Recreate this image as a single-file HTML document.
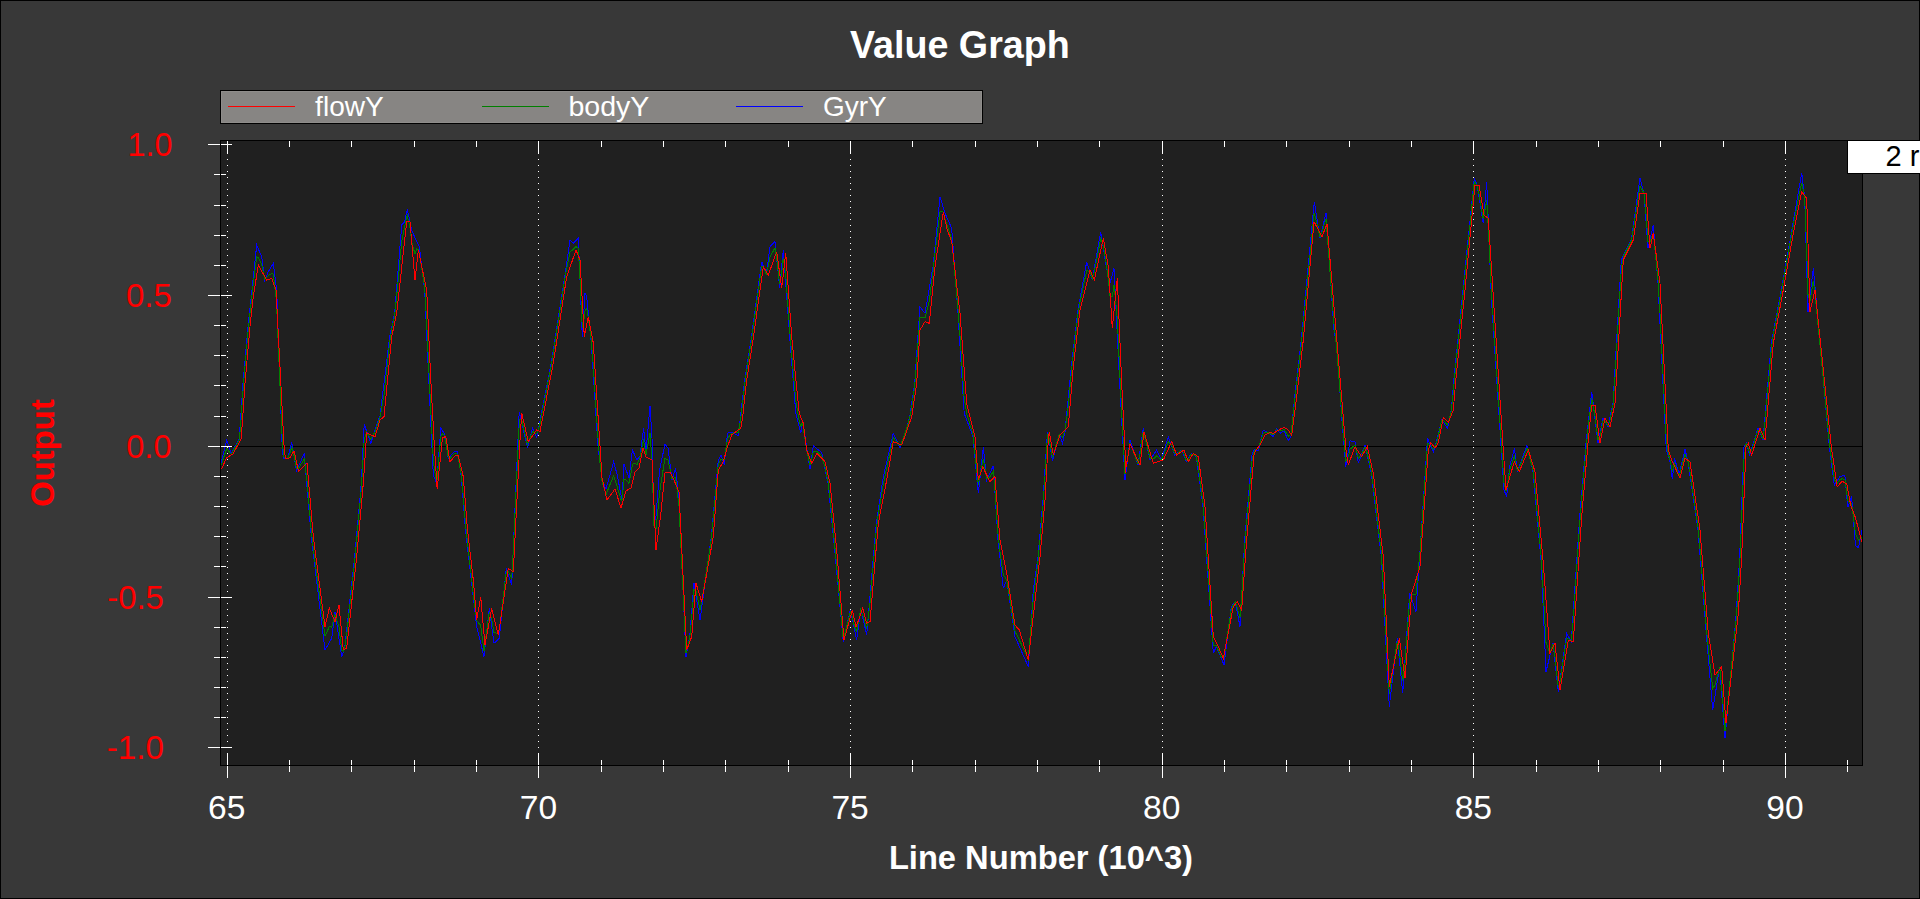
<!DOCTYPE html>
<html><head><meta charset="utf-8"><title>Value Graph</title>
<style>
html,body{margin:0;padding:0;background:#383838;overflow:hidden;width:1920px;height:899px;}
svg{display:block;}
text{font-family:"Liberation Sans",sans-serif;}
</style></head><body>
<svg width="1920" height="899" viewBox="0 0 1920 899">
<rect x="0" y="0" width="1920" height="899" fill="#383838"/>
<rect x="0" y="0" width="1920" height="1" fill="#000"/><rect x="0" y="898" width="1920" height="1" fill="#000"/><rect x="0" y="0" width="1" height="899" fill="#000"/><rect x="1919" y="0" width="1" height="899" fill="#000"/>
<text x="850.0" y="58" font-size="38" font-weight="bold" fill="#fff" textLength="219.73" lengthAdjust="spacingAndGlyphs">Value Graph</text>
<rect x="220" y="90" width="763" height="34" fill="#000"/>
<rect x="221" y="91" width="761" height="32" fill="#878583"/>
<rect x="221.5" y="91.5" width="760" height="31" fill="none" stroke="#8f8d8b" stroke-width="1"/>
<rect x="228" y="106" width="67" height="1" fill="#ff0000"/>
<text x="315.1" y="116" font-size="28" font-weight="normal" fill="#fff" textLength="68.67" lengthAdjust="spacingAndGlyphs">flowY</text>
<rect x="482" y="106" width="67" height="1" fill="#008000"/>
<text x="568.4" y="116" font-size="28" font-weight="normal" fill="#fff" textLength="81.06" lengthAdjust="spacingAndGlyphs">bodyY</text>
<rect x="736" y="106" width="67" height="1" fill="#0000ff"/>
<text x="823.0" y="116" font-size="28" font-weight="normal" fill="#fff" textLength="63.78" lengthAdjust="spacingAndGlyphs">GyrY</text>
<rect x="220" y="140" width="1643" height="626" fill="#202020"/>
<line x1="227.5" y1="141" x2="227.5" y2="765" stroke="#fff" stroke-width="1" stroke-dasharray="1 5"/>
<line x1="538.5" y1="141" x2="538.5" y2="765" stroke="#fff" stroke-width="1" stroke-dasharray="1 5"/>
<line x1="850.5" y1="141" x2="850.5" y2="765" stroke="#fff" stroke-width="1" stroke-dasharray="1 5"/>
<line x1="1162.5" y1="141" x2="1162.5" y2="765" stroke="#fff" stroke-width="1" stroke-dasharray="1 5"/>
<line x1="1473.5" y1="141" x2="1473.5" y2="765" stroke="#fff" stroke-width="1" stroke-dasharray="1 5"/>
<line x1="1785.5" y1="141" x2="1785.5" y2="765" stroke="#fff" stroke-width="1" stroke-dasharray="1 5"/>
<rect x="221" y="446" width="1641" height="1" fill="#000"/>
<clipPath id="pc"><rect x="221" y="141" width="1641" height="624"/></clipPath>
<g clip-path="url(#pc)" fill="none" stroke-width="1" shape-rendering="crispEdges">
<polyline points="219.6,469.0 226.7,440.0 231.1,453.8 234.7,447.2 239.1,439.1 240.5,420.5 243.0,383.3 248.0,326.7 251.3,296.7 256.7,245.0 261.7,256.7 264.7,280.0 268.3,271.7 273.3,263.3 276.7,290.0 282.3,450.7 283.6,458.7 288.0,457.8 291.7,441.7 296.5,471.2 304.2,453.3 311.3,536.7 325.0,650.0 331.7,638.3 335.0,611.7 341.7,656.7 344.7,648.3 354.7,556.7 361.3,483.3 364.2,424.2 370.8,443.3 375.0,430.0 380.0,415.8 389.7,336.7 394.7,313.0 401.7,225.0 404.7,221.7 407.3,209.3 411.7,230.0 416.7,241.7 419.3,246.7 424.7,290.0 428.8,380.0 433.3,475.0 436.7,483.3 440.8,428.3 444.2,433.3 448.3,458.3 454.2,451.7 457.5,451.7 461.3,476.7 465.5,530.0 471.3,580.0 476.7,626.7 484.0,656.7 489.3,608.3 494.0,643.3 499.3,638.3 506.3,568.3 511.7,585.0 519.2,411.7 527.5,447.5 532.5,428.3 536.7,437.5 551.3,363.0 564.7,276.7 570.0,240.0 573.3,243.3 578.3,238.3 582.3,336.7 585.0,293.3 586.7,296.7 591.3,343.0 598.0,446.0 602.0,480.0 606.0,489.0 613.6,462.0 617.0,474.0 622.0,500.0 624.0,464.0 629.0,478.0 632.4,450.0 637.0,460.0 640.0,456.0 643.6,428.0 646.0,452.0 650.0,406.0 652.0,438.0 654.0,524.0 656.0,516.0 659.6,470.0 665.0,444.0 668.0,448.0 672.0,480.0 675.6,468.0 679.0,500.0 686.0,656.7 689.7,636.7 694.0,583.3 700.0,620.0 711.3,536.7 718.3,460.0 721.0,455.0 724.2,465.0 727.5,433.3 731.7,432.0 738.3,435.8 744.7,380.0 751.0,340.0 761.7,261.7 766.3,275.0 770.0,246.7 775.0,241.7 779.7,288.0 783.3,250.0 789.7,336.7 795.8,413.3 800.8,433.3 802.5,420.0 810.0,469.2 813.3,445.8 821.7,452.5 828.0,483.3 834.7,550.0 843.3,641.7 850.3,610.0 854.0,626.7 856.7,640.0 860.7,608.3 866.7,635.0 876.3,523.3 883.3,476.7 893.3,433.3 900.0,447.5 906.7,428.3 909.7,416.7 914.7,383.3 920.0,306.7 925.0,313.3 933.0,266.7 940.0,196.7 945.0,213.3 951.7,228.3 958.0,313.3 964.2,413.3 973.0,436.7 978.3,493.3 983.3,447.5 986.7,480.0 993.3,465.8 998.0,540.0 1003.3,588.3 1006.7,580.0 1015.0,636.7 1028.3,666.7 1033.3,590.0 1038.0,556.7 1043.0,500.0 1047.5,431.7 1052.5,460.8 1059.2,434.2 1062.5,443.3 1065.0,431.7 1071.3,366.7 1078.0,310.0 1086.7,261.7 1092.3,280.0 1100.7,231.7 1106.3,266.7 1110.0,283.3 1114.0,268.3 1119.7,383.3 1125.0,480.0 1130.0,440.0 1138.0,465.0 1143.3,428.3 1150.0,460.0 1156.7,450.0 1161.3,460.0 1168.3,436.7 1174.7,455.0 1182.0,450.0 1186.3,461.7 1191.3,453.3 1196.3,456.7 1203.0,506.7 1213.3,653.3 1216.3,646.7 1221.3,658.3 1224.0,665.0 1231.3,606.7 1235.3,601.7 1240.0,626.7 1244.7,540.0 1252.2,453.3 1254.7,449.2 1258.3,450.8 1263.3,430.0 1268.0,432.5 1273.3,436.7 1276.7,429.0 1280.0,433.3 1284.0,431.0 1288.3,440.8 1291.0,436.0 1294.7,396.7 1301.3,340.0 1314.3,201.7 1320.0,238.3 1326.0,213.3 1334.0,330.0 1336.7,346.7 1341.7,416.7 1345.8,466.7 1350.0,440.8 1355.0,441.7 1358.3,463.3 1365.0,445.0 1371.3,473.3 1381.3,556.7 1389.3,706.7 1397.3,638.3 1402.7,693.3 1409.7,593.3 1416.0,611.7 1427.5,438.3 1433.3,451.7 1436.3,442.5 1441.7,420.0 1447.5,428.3 1451.3,410.0 1453.8,380.0 1463.0,290.0 1474.3,178.3 1477.0,185.0 1483.3,223.3 1486.7,181.7 1491.3,296.7 1501.3,450.0 1504.0,490.0 1506.7,496.6 1509.6,466.7 1514.5,448.4 1517.3,471.7 1527.0,445.5 1533.0,471.7 1541.3,563.3 1546.0,671.7 1553.0,643.3 1558.3,691.7 1566.7,633.3 1571.3,641.7 1579.7,516.7 1586.3,440.0 1591.7,391.7 1598.0,443.3 1603.0,418.3 1608.0,426.7 1613.0,403.3 1621.3,260.0 1631.3,240.0 1640.0,178.3 1644.0,193.3 1648.0,248.3 1653.3,225.0 1658.0,283.3 1666.3,450.0 1669.7,460.0 1672.4,479.2 1674.4,458.0 1679.2,474.4 1685.0,449.4 1688.0,461.7 1698.0,530.0 1706.3,633.3 1712.7,710.0 1719.7,666.7 1725.0,738.3 1736.3,613.3 1739.7,556.7 1744.0,446.7 1746.3,443.3 1749.7,455.0 1758.0,428.3 1763.0,440.0 1771.3,343.3 1781.3,290.0 1791.3,233.3 1801.7,172.7 1804.7,198.3 1808.0,311.7 1813.3,268.3 1829.4,447.4 1834.3,485.0 1840.1,476.3 1844.9,475.4 1847.8,507.2 1851.6,496.6 1855.5,545.7 1858.4,547.6 1862.0,530.0" stroke="#0000ff"/>
<polyline points="219.6,469.0 221.6,463.8 226.5,449.0 226.7,448.6 229.6,452.2 231.1,454.1 233.1,451.1 234.7,448.1 236.7,444.4 239.1,440.0 240.5,427.1 241.1,418.7 242.5,398.2 243.0,390.7 245.0,366.3 248.0,332.4 250.0,313.1 251.3,301.2 253.3,284.0 256.7,256.9 258.3,257.8 261.7,264.8 264.7,279.1 266.7,277.5 268.3,275.4 271.7,273.5 273.3,274.3 276.0,296.8 276.7,306.3 280.0,385.5 282.3,440.9 283.6,455.6 284.3,457.7 285.6,458.4 288.0,457.9 290.0,452.6 291.7,447.4 294.0,455.5 296.5,468.9 298.5,468.4 304.2,459.1 307.0,480.5 311.3,530.9 313.3,548.8 325.0,636.2 329.3,626.6 331.7,627.3 335.0,614.6 339.0,627.0 341.7,650.2 343.3,650.9 344.7,648.5 346.7,634.6 354.7,561.3 356.7,540.0 361.3,488.9 363.3,455.5 364.2,439.7 366.7,432.4 370.8,439.3 375.0,431.7 380.0,417.5 384.0,394.7 389.7,341.9 391.7,329.6 394.7,315.4 396.7,295.9 401.7,241.6 404.7,226.3 406.7,216.9 407.3,215.5 410.0,227.7 411.7,241.6 415.0,254.3 416.7,248.6 418.3,249.8 419.3,253.1 424.7,287.6 426.7,322.9 428.8,369.0 430.8,410.4 433.3,459.9 434.2,467.9 436.7,483.8 437.2,478.0 440.8,436.3 442.5,434.0 444.2,435.1 445.8,442.9 448.3,457.9 450.0,458.5 454.2,453.7 455.8,453.5 457.5,454.2 458.3,458.5 461.3,474.6 463.3,495.7 465.5,523.7 467.5,542.9 471.3,575.7 473.3,594.5 476.7,620.4 480.7,625.5 484.0,650.9 485.0,643.5 489.3,612.1 491.7,619.3 494.0,632.5 498.3,633.8 499.3,630.0 506.3,571.6 508.3,571.7 511.7,578.1 513.3,550.0 519.2,424.3 520.0,419.6 521.7,419.9 527.5,444.5 528.3,442.4 532.5,431.4 536.7,434.0 540.0,423.6 551.3,365.6 553.3,353.3 564.7,279.9 566.7,268.3 570.0,252.2 573.3,249.1 576.0,246.5 578.3,248.3 580.0,279.0 582.3,327.8 584.3,318.1 585.0,310.7 586.7,308.2 588.3,317.4 591.3,340.4 593.3,366.1 598.0,438.3 600.0,462.5 602.0,481.2 606.0,494.5 607.0,492.0 613.6,475.8 615.0,479.6 617.0,486.2 621.0,499.7 622.0,500.6 624.0,479.2 626.0,480.0 629.0,483.3 631.0,472.8 632.4,464.2 635.0,463.3 637.0,464.5 639.0,460.2 640.0,457.0 643.0,441.8 643.6,440.4 646.0,454.8 650.0,432.8 652.0,460.2 654.0,525.8 656.0,529.2 659.6,492.5 661.0,482.8 665.0,458.4 668.0,460.1 670.0,469.0 672.0,479.0 674.0,477.9 675.6,477.1 679.0,506.3 686.0,653.0 686.7,650.1 689.7,638.0 691.7,618.1 694.0,589.5 696.0,591.0 700.0,609.7 701.7,601.8 711.3,539.5 713.3,519.1 718.3,464.2 721.0,459.4 723.3,460.2 724.2,460.0 727.5,438.6 731.7,433.1 735.8,432.7 738.3,432.6 740.8,418.2 742.5,404.2 744.7,384.6 746.7,370.5 751.0,343.2 753.0,329.1 761.7,266.3 763.3,267.3 766.3,274.2 768.3,266.0 770.0,257.1 775.0,247.7 776.7,258.7 779.7,284.4 781.7,273.1 783.3,257.6 785.7,274.7 789.7,329.7 791.7,354.4 795.8,401.0 799.2,421.3 800.8,426.5 802.5,422.4 803.3,428.2 806.7,450.1 810.0,465.3 811.7,459.2 813.3,452.0 816.7,451.4 821.7,455.9 825.0,467.3 828.0,481.1 830.0,498.2 834.7,545.0 836.7,566.8 843.3,640.3 844.0,637.5 850.3,611.8 852.3,616.8 854.0,624.4 856.0,630.4 856.7,631.2 859.3,617.4 860.7,609.8 862.7,614.6 866.7,628.9 870.0,603.2 876.3,529.2 878.3,514.1 883.3,484.5 886.7,468.1 893.3,437.7 900.0,446.1 901.7,442.4 906.7,428.2 909.7,418.1 911.7,406.7 914.7,386.6 916.7,360.8 920.0,317.5 925.0,317.7 929.3,300.8 933.0,271.7 935.0,253.4 940.0,211.8 943.3,212.0 945.0,218.7 947.3,225.6 951.7,239.3 958.0,309.0 960.0,336.1 964.2,398.2 966.7,413.6 973.0,434.7 975.0,453.9 978.3,485.1 982.7,460.9 983.3,458.7 986.7,478.5 990.0,476.8 993.3,471.6 995.0,491.0 998.0,533.7 1000.0,551.6 1003.3,574.8 1006.7,579.8 1015.0,631.4 1019.3,639.9 1028.3,658.9 1033.3,598.5 1038.0,561.1 1040.0,539.7 1043.0,505.7 1045.0,475.7 1047.5,435.0 1048.3,434.0 1049.3,439.9 1052.5,457.6 1053.3,454.8 1055.0,448.9 1059.2,434.5 1060.0,435.2 1062.5,437.4 1065.0,430.3 1068.3,406.2 1071.3,372.7 1073.3,354.0 1078.0,314.2 1080.0,302.4 1086.7,270.4 1090.0,272.4 1092.3,278.8 1094.3,271.9 1100.7,238.7 1103.3,246.0 1106.3,263.9 1108.3,278.9 1110.0,295.8 1112.3,296.5 1114.0,284.8 1117.3,318.5 1119.7,371.4 1121.7,411.7 1125.0,473.7 1130.0,443.1 1138.0,463.9 1140.0,454.0 1143.3,430.7 1144.0,433.5 1150.0,457.8 1153.3,459.0 1156.7,455.9 1161.3,460.2 1163.3,455.6 1168.3,441.8 1171.7,445.4 1174.7,453.7 1176.7,454.0 1182.0,450.3 1184.0,454.1 1186.3,460.3 1188.3,459.2 1191.3,454.1 1193.3,454.3 1196.3,456.4 1198.3,467.9 1203.0,503.0 1205.0,528.8 1213.3,646.0 1216.3,645.7 1218.3,650.2 1221.3,657.1 1223.3,658.2 1224.0,657.3 1231.3,609.3 1233.3,604.8 1235.3,602.3 1237.3,608.0 1240.0,617.7 1241.7,595.7 1244.7,547.0 1246.7,522.7 1252.2,459.1 1254.2,450.8 1254.7,450.0 1256.7,449.0 1258.3,448.3 1260.0,443.4 1263.3,433.2 1265.0,432.7 1268.0,432.8 1270.0,433.4 1273.3,434.7 1276.7,429.8 1280.0,431.0 1284.0,429.5 1284.2,429.7 1287.5,434.8 1288.3,436.2 1291.0,434.4 1291.7,428.0 1294.7,400.5 1296.7,383.8 1301.3,344.3 1303.3,323.8 1314.0,214.2 1314.3,212.9 1320.0,236.6 1322.0,232.1 1326.0,218.7 1327.0,231.8 1334.0,324.1 1336.0,342.2 1336.7,348.6 1341.7,413.6 1345.8,461.0 1346.0,461.0 1348.3,456.8 1350.0,449.2 1355.0,444.9 1358.3,458.2 1361.7,454.5 1365.0,447.0 1367.3,453.2 1371.3,471.1 1373.3,485.8 1381.3,552.5 1383.3,586.3 1389.3,694.3 1397.3,640.7 1399.3,652.0 1402.7,681.2 1405.0,663.0 1409.7,599.6 1411.7,594.6 1416.0,594.0 1420.0,552.0 1427.5,443.8 1428.3,443.6 1430.8,444.9 1433.3,449.5 1435.0,446.5 1436.3,443.4 1438.3,435.8 1441.7,420.2 1443.3,420.4 1447.5,425.1 1448.3,422.2 1451.3,411.2 1453.3,392.0 1453.8,386.0 1455.8,365.3 1463.0,294.9 1465.0,274.9 1474.3,181.6 1475.0,182.5 1477.0,185.0 1479.0,194.1 1483.3,219.3 1484.0,215.3 1486.7,199.8 1488.3,227.8 1491.3,288.9 1493.3,319.7 1501.3,442.3 1503.3,472.2 1504.0,482.6 1506.0,490.7 1506.7,490.4 1509.6,470.5 1514.3,456.4 1514.5,456.2 1517.3,470.7 1519.3,467.8 1527.0,448.1 1528.3,452.2 1533.0,470.1 1535.0,488.3 1541.3,557.8 1543.3,593.1 1546.0,642.4 1550.0,653.4 1553.0,644.3 1555.0,657.1 1558.3,687.6 1560.0,681.9 1566.7,638.5 1568.3,638.3 1571.3,641.5 1573.3,619.4 1579.7,524.1 1581.7,499.3 1586.3,445.8 1588.3,425.9 1591.7,398.4 1595.0,415.7 1598.0,439.5 1600.0,435.8 1603.0,420.8 1605.0,420.8 1608.0,425.9 1610.0,419.7 1613.0,405.6 1615.0,377.4 1621.3,268.6 1623.3,257.0 1631.3,241.0 1633.3,229.4 1640.0,185.8 1644.0,193.3 1646.0,213.9 1648.0,241.4 1650.0,241.6 1653.3,232.9 1658.0,279.6 1660.0,313.4 1666.3,440.0 1668.3,454.4 1669.7,458.5 1671.7,468.2 1672.4,471.5 1674.4,463.1 1679.2,475.9 1680.0,472.6 1685.0,454.2 1688.0,461.4 1690.0,471.9 1698.0,526.6 1700.0,548.7 1706.3,627.1 1708.3,648.4 1712.7,688.5 1715.0,684.8 1719.7,667.3 1721.7,686.8 1725.0,730.8 1726.0,720.8 1736.3,617.8 1738.3,588.3 1739.7,565.0 1741.7,518.3 1744.0,459.5 1746.0,444.5 1746.3,444.0 1748.3,448.5 1749.7,453.3 1751.7,450.2 1758.0,429.9 1760.0,431.8 1763.0,438.8 1765.0,422.5 1771.3,349.1 1773.3,335.3 1781.3,292.7 1783.3,281.5 1791.3,236.1 1793.3,225.0 1801.7,182.9 1804.7,197.6 1806.7,249.8 1808.0,294.5 1810.0,301.3 1813.3,280.7 1815.0,293.4 1829.4,442.6 1831.4,458.5 1834.3,479.5 1837.2,483.2 1840.1,479.3 1842.0,478.9 1844.9,479.4 1846.8,492.8 1847.8,501.0 1850.7,503.5 1851.6,503.4 1855.5,533.7 1858.4,540.1 1861.3,538.2 1862.0,537.5 1863.0,537.5" stroke="#008000"/>
<polyline points="221.6,469.0 226.5,457.8 229.6,456.0 233.1,453.8 236.7,447.2 241.1,439.1 242.5,420.5 245.0,383.3 250.0,326.7 253.3,296.7 258.3,265.0 266.7,280.0 271.7,278.3 276.0,290.0 280.0,366.7 284.3,450.7 285.6,458.7 290.0,457.8 294.0,450.7 298.5,471.2 307.0,463.2 313.3,536.7 325.0,626.7 329.3,608.3 335.0,621.7 339.0,605.0 343.3,650.0 346.7,648.3 356.7,556.7 363.3,483.3 366.7,433.0 375.0,436.7 380.0,420.0 384.0,416.7 391.7,336.7 396.7,313.0 406.7,221.7 410.0,221.7 415.0,280.0 418.3,250.0 426.7,290.0 430.8,380.0 434.2,443.3 437.2,489.2 442.5,437.5 445.8,436.7 450.0,461.7 455.8,455.0 458.3,455.8 463.3,476.7 467.5,530.0 473.3,580.0 476.7,620.0 480.7,596.7 485.0,645.0 491.7,608.3 498.3,635.0 508.3,568.3 513.3,571.7 520.0,440.0 521.7,413.0 528.3,441.7 536.7,430.0 540.0,431.7 553.3,363.0 566.7,276.7 576.0,250.0 580.0,260.0 584.3,336.7 588.3,316.7 593.3,343.0 600.0,446.0 602.0,478.0 607.0,500.0 615.0,489.0 621.0,508.0 626.0,491.0 631.0,488.0 635.0,472.0 639.0,468.0 643.0,448.0 646.0,457.0 652.0,460.0 656.0,550.0 661.0,512.0 665.0,473.0 670.0,472.0 674.0,480.0 679.0,492.0 686.7,650.0 691.7,636.7 696.0,583.3 701.7,601.7 713.3,536.7 718.3,470.0 723.3,461.7 727.5,446.7 731.7,435.0 735.8,431.7 740.8,428.3 742.5,418.3 746.7,380.0 753.0,340.0 763.3,266.7 768.3,275.0 776.7,251.7 781.7,288.0 785.7,253.0 791.7,336.7 799.2,413.3 803.3,423.3 806.7,450.0 811.7,463.3 816.7,453.3 825.0,461.7 830.0,483.3 836.7,550.0 844.0,640.0 852.3,610.0 856.0,626.7 859.3,618.3 862.7,608.3 866.7,623.3 870.0,621.7 878.3,523.3 886.7,480.0 893.3,441.7 901.7,445.0 911.7,416.7 916.7,383.3 920.0,330.0 925.0,321.7 929.3,323.3 935.0,266.7 943.3,211.7 947.3,230.0 951.7,241.7 960.0,313.3 966.7,403.3 975.0,436.7 978.3,480.0 982.7,466.7 990.0,481.7 995.0,476.7 1000.0,540.0 1006.7,573.3 1015.0,625.0 1019.3,630.0 1028.3,660.0 1040.0,556.7 1045.0,500.0 1048.3,440.0 1049.3,431.7 1053.3,455.0 1055.0,450.0 1060.0,435.0 1068.3,426.7 1073.3,366.7 1080.0,310.0 1090.0,270.0 1094.3,280.0 1103.3,238.3 1108.3,266.7 1112.3,328.3 1117.3,278.3 1121.7,383.3 1125.0,450.0 1125.0,473.3 1130.0,444.0 1140.0,465.0 1144.0,432.0 1153.3,463.3 1163.3,460.0 1171.7,441.7 1176.7,455.0 1184.0,450.0 1188.3,461.7 1193.3,453.3 1198.3,456.7 1205.0,506.7 1213.3,636.7 1218.3,646.7 1223.3,658.3 1233.3,606.7 1237.3,601.7 1241.7,610.0 1246.7,540.0 1254.2,453.3 1256.7,449.2 1260.0,445.0 1265.0,435.0 1270.0,432.5 1273.3,433.3 1280.0,429.2 1284.2,427.5 1287.5,429.2 1291.7,435.0 1296.7,396.7 1303.3,340.0 1314.0,221.7 1322.0,236.7 1327.0,224.0 1336.0,330.0 1346.0,450.0 1348.3,465.0 1355.0,446.7 1361.7,456.7 1367.3,446.7 1373.3,473.3 1383.3,556.7 1389.3,686.7 1399.3,638.3 1405.0,678.3 1411.7,593.3 1420.0,566.7 1428.3,450.0 1430.8,442.5 1435.0,448.3 1438.3,442.5 1443.3,417.5 1448.3,422.5 1453.3,410.0 1455.8,380.0 1465.0,290.0 1475.0,185.0 1479.0,185.0 1484.0,215.0 1488.3,218.3 1493.3,296.7 1503.3,450.0 1506.0,490.0 1514.3,461.7 1519.3,471.7 1528.3,450.0 1535.0,471.7 1543.3,563.3 1550.0,653.3 1555.0,643.3 1560.0,690.0 1568.3,640.0 1573.3,641.7 1581.7,516.7 1588.3,440.0 1591.7,405.0 1595.0,405.0 1600.0,443.3 1605.0,418.3 1610.0,426.7 1615.0,403.3 1623.3,260.0 1633.3,240.0 1640.0,193.3 1646.0,193.3 1650.0,248.3 1653.3,233.3 1660.0,283.3 1668.3,450.0 1671.7,460.0 1680.0,478.3 1685.0,458.3 1690.0,461.7 1700.0,530.0 1708.3,633.3 1715.0,675.0 1721.7,666.7 1726.0,723.3 1738.3,613.3 1741.7,556.7 1746.0,446.7 1748.3,443.3 1751.7,455.0 1760.0,428.3 1765.0,440.0 1773.3,343.3 1783.3,290.0 1793.3,233.3 1801.7,191.7 1806.7,198.3 1810.0,311.7 1815.0,290.0 1831.4,447.4 1837.2,486.9 1842.0,481.2 1846.8,484.0 1850.7,505.2 1855.5,517.8 1861.3,539.9 1863.0,545.0" stroke="#ff0000"/>
</g>
<rect x="227" y="141" width="1" height="13" fill="#fff"/>
<rect x="227" y="753" width="1" height="25" fill="#fff"/>
<text x="208.10" y="819" font-size="34" fill="#fff" textLength="37.35" lengthAdjust="spacingAndGlyphs">65</text>
<rect x="289" y="141" width="1" height="6" fill="#fff"/>
<rect x="289" y="760" width="1" height="12" fill="#fff"/>
<rect x="351" y="141" width="1" height="6" fill="#fff"/>
<rect x="351" y="760" width="1" height="12" fill="#fff"/>
<rect x="414" y="141" width="1" height="6" fill="#fff"/>
<rect x="414" y="760" width="1" height="12" fill="#fff"/>
<rect x="476" y="141" width="1" height="6" fill="#fff"/>
<rect x="476" y="760" width="1" height="12" fill="#fff"/>
<rect x="538" y="141" width="1" height="13" fill="#fff"/>
<rect x="538" y="753" width="1" height="25" fill="#fff"/>
<text x="519.75" y="819" font-size="34" fill="#fff" textLength="37.35" lengthAdjust="spacingAndGlyphs">70</text>
<rect x="601" y="141" width="1" height="6" fill="#fff"/>
<rect x="601" y="760" width="1" height="12" fill="#fff"/>
<rect x="663" y="141" width="1" height="6" fill="#fff"/>
<rect x="663" y="760" width="1" height="12" fill="#fff"/>
<rect x="725" y="141" width="1" height="6" fill="#fff"/>
<rect x="725" y="760" width="1" height="12" fill="#fff"/>
<rect x="788" y="141" width="1" height="6" fill="#fff"/>
<rect x="788" y="760" width="1" height="12" fill="#fff"/>
<rect x="850" y="141" width="1" height="13" fill="#fff"/>
<rect x="850" y="753" width="1" height="25" fill="#fff"/>
<text x="831.40" y="819" font-size="34" fill="#fff" textLength="37.35" lengthAdjust="spacingAndGlyphs">75</text>
<rect x="912" y="141" width="1" height="6" fill="#fff"/>
<rect x="912" y="760" width="1" height="12" fill="#fff"/>
<rect x="975" y="141" width="1" height="6" fill="#fff"/>
<rect x="975" y="760" width="1" height="12" fill="#fff"/>
<rect x="1037" y="141" width="1" height="6" fill="#fff"/>
<rect x="1037" y="760" width="1" height="12" fill="#fff"/>
<rect x="1099" y="141" width="1" height="6" fill="#fff"/>
<rect x="1099" y="760" width="1" height="12" fill="#fff"/>
<rect x="1162" y="141" width="1" height="13" fill="#fff"/>
<rect x="1162" y="753" width="1" height="25" fill="#fff"/>
<text x="1143.05" y="819" font-size="34" fill="#fff" textLength="37.35" lengthAdjust="spacingAndGlyphs">80</text>
<rect x="1224" y="141" width="1" height="6" fill="#fff"/>
<rect x="1224" y="760" width="1" height="12" fill="#fff"/>
<rect x="1286" y="141" width="1" height="6" fill="#fff"/>
<rect x="1286" y="760" width="1" height="12" fill="#fff"/>
<rect x="1349" y="141" width="1" height="6" fill="#fff"/>
<rect x="1349" y="760" width="1" height="12" fill="#fff"/>
<rect x="1411" y="141" width="1" height="6" fill="#fff"/>
<rect x="1411" y="760" width="1" height="12" fill="#fff"/>
<rect x="1473" y="141" width="1" height="13" fill="#fff"/>
<rect x="1473" y="753" width="1" height="25" fill="#fff"/>
<text x="1454.70" y="819" font-size="34" fill="#fff" textLength="37.35" lengthAdjust="spacingAndGlyphs">85</text>
<rect x="1536" y="141" width="1" height="6" fill="#fff"/>
<rect x="1536" y="760" width="1" height="12" fill="#fff"/>
<rect x="1598" y="141" width="1" height="6" fill="#fff"/>
<rect x="1598" y="760" width="1" height="12" fill="#fff"/>
<rect x="1660" y="141" width="1" height="6" fill="#fff"/>
<rect x="1660" y="760" width="1" height="12" fill="#fff"/>
<rect x="1723" y="141" width="1" height="6" fill="#fff"/>
<rect x="1723" y="760" width="1" height="12" fill="#fff"/>
<rect x="1785" y="141" width="1" height="13" fill="#fff"/>
<rect x="1785" y="753" width="1" height="25" fill="#fff"/>
<text x="1766.35" y="819" font-size="34" fill="#fff" textLength="37.35" lengthAdjust="spacingAndGlyphs">90</text>
<rect x="1847" y="141" width="1" height="6" fill="#fff"/>
<rect x="1847" y="760" width="1" height="12" fill="#fff"/>
<rect x="208" y="747" width="24" height="1" fill="#fff"/>
<rect x="214" y="717" width="12" height="1" fill="#fff"/>
<rect x="214" y="687" width="12" height="1" fill="#fff"/>
<rect x="214" y="657" width="12" height="1" fill="#fff"/>
<rect x="214" y="627" width="12" height="1" fill="#fff"/>
<rect x="208" y="597" width="24" height="1" fill="#fff"/>
<rect x="214" y="566" width="12" height="1" fill="#fff"/>
<rect x="214" y="536" width="12" height="1" fill="#fff"/>
<rect x="214" y="506" width="12" height="1" fill="#fff"/>
<rect x="214" y="476" width="12" height="1" fill="#fff"/>
<rect x="208" y="446" width="24" height="1" fill="#fff"/>
<rect x="214" y="416" width="12" height="1" fill="#fff"/>
<rect x="214" y="385" width="12" height="1" fill="#fff"/>
<rect x="214" y="355" width="12" height="1" fill="#fff"/>
<rect x="214" y="325" width="12" height="1" fill="#fff"/>
<rect x="208" y="295" width="24" height="1" fill="#fff"/>
<rect x="214" y="265" width="12" height="1" fill="#fff"/>
<rect x="214" y="235" width="12" height="1" fill="#fff"/>
<rect x="214" y="205" width="12" height="1" fill="#fff"/>
<rect x="214" y="174" width="12" height="1" fill="#fff"/>
<rect x="208" y="144" width="24" height="1" fill="#fff"/>
<rect x="220" y="140" width="1643" height="1" fill="#000"/><rect x="220" y="765" width="1643" height="1" fill="#000"/><rect x="220" y="140" width="1" height="626" fill="#000"/><rect x="1862" y="140" width="1" height="626" fill="#000"/>
<text x="127.5" y="156" font-size="34" font-weight="normal" fill="#f00" textLength="44.96" lengthAdjust="spacingAndGlyphs">1.0</text>
<text x="125.9" y="307" font-size="34" font-weight="normal" fill="#f00" textLength="45.9" lengthAdjust="spacingAndGlyphs">0.5</text>
<text x="126.3" y="458" font-size="34" font-weight="normal" fill="#f00" textLength="45.16" lengthAdjust="spacingAndGlyphs">0.0</text>
<text x="107.2" y="609" font-size="34" font-weight="normal" fill="#f00" textLength="56.71" lengthAdjust="spacingAndGlyphs">-0.5</text>
<text x="106.8" y="759" font-size="34" font-weight="normal" fill="#f00" textLength="57.13" lengthAdjust="spacingAndGlyphs">-1.0</text>
<text x="888.9" y="869" font-size="33" font-weight="bold" fill="#fff" textLength="304.04" lengthAdjust="spacingAndGlyphs">Line Number (10^3)</text>
<text transform="translate(53.5,506.8) rotate(-90)" font-size="34" font-weight="bold" fill="#f00" textLength="107.66" lengthAdjust="spacingAndGlyphs">Output</text>
<rect x="1847" y="140" width="73" height="34" fill="#000"/><rect x="1848" y="141" width="72" height="32" fill="#fff"/>
<text x="1885.5" y="166" font-size="29" font-weight="normal" fill="#000">2 r</text>
</svg>
</body></html>
